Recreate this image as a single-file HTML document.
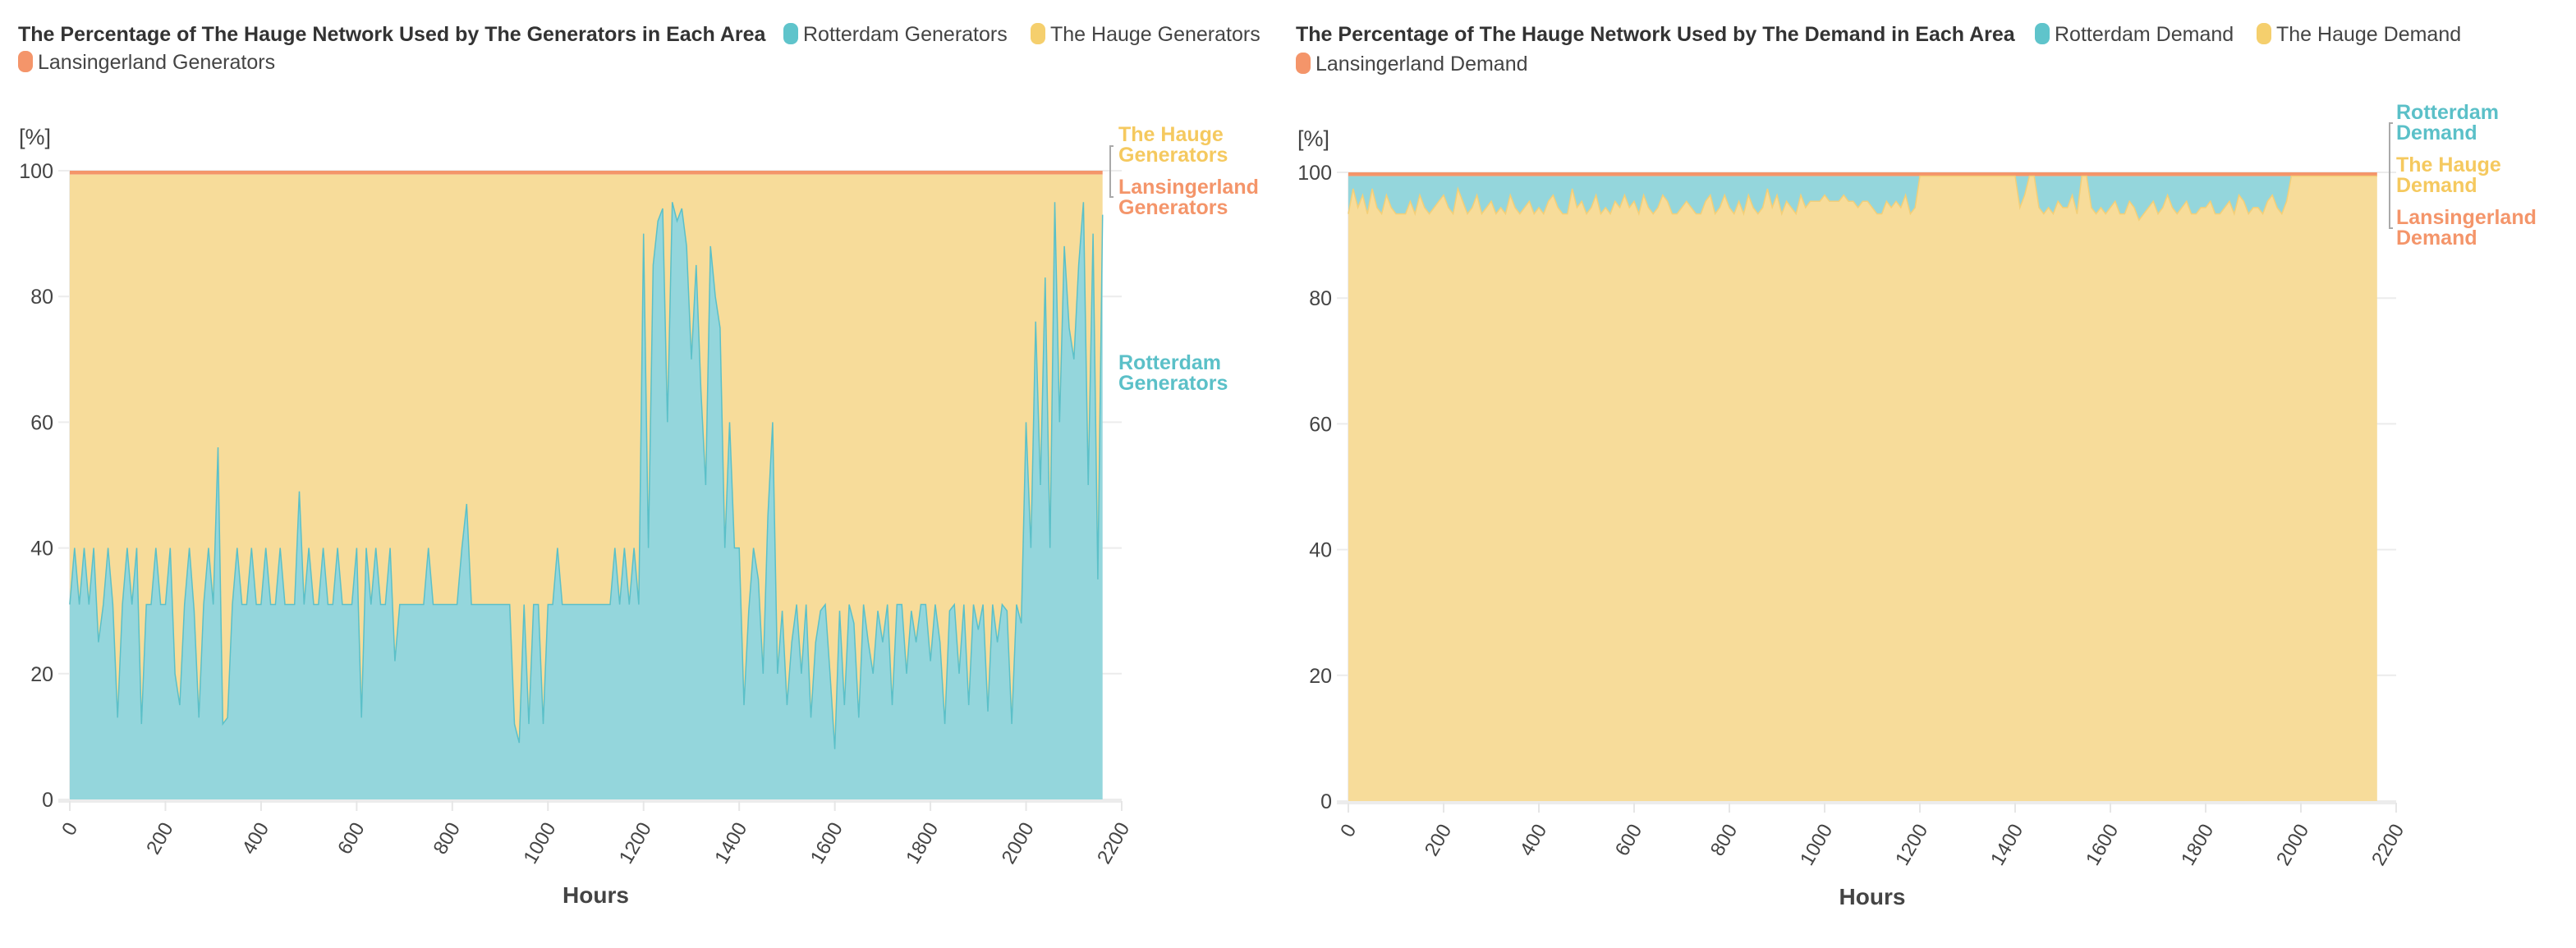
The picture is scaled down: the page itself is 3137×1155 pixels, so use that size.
<!DOCTYPE html>
<html><head><meta charset="utf-8">
<style>
html,body{margin:0;padding:0;background:#fff;}
body{width:3137px;height:1150px;overflow:hidden;font-family:"Liberation Sans",sans-serif;}
svg text{font-family:"Liberation Sans",sans-serif;}
</style></head>
<body>
<svg id="svg" width="3137" height="1150" viewBox="0 0 3137 1150" xmlns="http://www.w3.org/2000/svg"></svg>
<script>
// ---- data ----
const hoursStep = 10;
const genRotterdam = [31,40,31,40,31,40,25,31,40,31,13,31,40,31,40,12,31,31,40,31,
31,40,20,15,31,40,30,13,31,40,31,56,12,13,31,40,31,31,40,31,
31,40,31,31,40,31,31,31,49,31,40,31,31,40,31,31,40,31,31,31,
40,13,40,31,40,31,31,40,22,31,31,31,31,31,31,40,31,31,31,31,
31,31,40,47,31,31,31,31,31,31,31,31,31,12,9,31,12,31,31,12,
31,31,40,31,31,31,31,31,31,31,31,31,31,31,40,31,40,31,40,31,
90,40,85,92,94,60,95,92,94,88,70,85,65,50,88,80,75,40,60,40,
40,15,30,40,35,20,45,60,20,30,15,25,31,20,31,13,25,30,31,20,
8,30,15,31,28,13,31,25,20,30,25,31,15,31,31,20,30,25,31,31,
22,31,25,12,30,31,20,31,15,31,27,31,14,31,25,31,30,12,31,28,
60,40,76,50,83,40,95,60,88,75,70,85,95,50,90,35,93];
const genLansingerland = 0.6;
const demRotterdam = [6,2,5,3,6,2,5,6,3,5,6,6,6,4,6,3,5,6,5,4,
3,5,6,2,4,6,5,3,6,5,4,6,5,6,3,5,6,5,4,6,
5,6,4,3,5,6,6,2,5,4,6,5,3,6,5,6,4,5,3,5,
4,6,3,5,6,5,3,4,6,6,5,4,5,6,6,4,3,6,5,3,
5,6,4,6,3,5,6,5,2,5,3,6,4,5,6,3,5,4,4,4,
3,4,4,4,3,4,4,5,4,4,5,6,6,4,5,4,5,3,6,5,
0,0,0,0,0,0,0,0,0,0,0,0,0,0,0,0,0,0,0,0,
0,5,3,0,0,5,6,5,6,4,5,5,3,6,0,0,5,6,5,6,
5,4,6,6,4,5,7,6,5,4,6,5,3,5,6,5,4,6,6,5,
5,4,6,6,5,4,6,3,4,6,5,5,6,4,3,5,6,4,0,0,
0,0,0,0,0,0,0,0,0,0,0,0,0,0,0,0,0];
const demLansingerland = 0.6;
const xTicks = [0,200,400,600,800,1000,1200,1400,1600,1800,2000,2200];
const yTicks = [0,20,40,60,80,100];

const NS="http://www.w3.org/2000/svg";
const svg=document.getElementById('svg');
function mk(tag,attrs,parent){const e=document.createElementNS(NS,tag);for(const k in attrs)e.setAttribute(k,attrs[k]);(parent||svg).appendChild(e);return e;}

const C={rot:'#94d6dc',rotS:'#5bc0c8',hag:'#f7dc9a',lan:'#f4956a',rotL:'#5fc4cb',hagL:'#f5cf6d',lanL:'#f4956a',hagT:'#f5c95f',rotT:'#5bc0c8'};

function chart(cfg){
  const g=mk('g',{});
  
  
  const xs=h=>cfg.x0+(h/2200)*(cfg.x1-cfg.x0);
  const ys=v=>cfg.y0-(v/100)*(cfg.y0-cfg.y100);
  const t=mk('text',{x:cfg.tx,y:50,'font-size':25,'font-weight':'bold',fill:'#333'},g);t.textContent=cfg.title;
  
  cfg.legend.forEach(l=>{
    const lg=mk('g',{},g);
    
    
    mk('rect',{x:l.x,y:l.y-22,width:18,height:26,rx:8,fill:l.c},lg);
    const tt=mk('text',{x:l.x+24,y:l.y,'font-size':25,fill:'#444'},lg);tt.textContent=l.t;
  });
  const yl=mk('text',{x:cfg.x0-62,y:cfg.y100-32,'font-size':27,fill:'#444'},g);yl.textContent='[%]';
  
  yTicks.forEach(v=>{
    mk('line',{x1:cfg.x0-14,x2:cfg.x1,y1:ys(v),y2:ys(v),stroke:'#ececec','stroke-width':2},g);
    const tl=mk('text',{x:cfg.x0-20,y:ys(v)+9,'font-size':25,fill:'#444','text-anchor':'end'},g);tl.textContent=v;
    
  });
  mk('line',{x1:cfg.x0,x2:cfg.x0,y1:cfg.y100,y2:cfg.y0,stroke:'#ececec','stroke-width':2},g);
  const n=cfg.rot.length;
  const pts=(fn)=>{let a=[];for(let i=0;i<n;i++)a.push(xs(i*hoursStep).toFixed(1)+','+ys(fn(i)).toFixed(1));return a;};
  const base=pts(()=>0);
  const topAll=pts(()=>100);
  const lanBot=pts(()=>100-cfg.lan);
  let rotTop, rotBot, hagTop, hagBot;
  if(cfg.rotTop){ // hauge bottom, rotterdam above
    hagBot=base; hagTop=pts(i=>100-cfg.lan-cfg.rot[i]);
    rotBot=hagTop; rotTop=lanBot;
  } else {
    rotBot=base; rotTop=pts(i=>cfg.rot[i]);
    hagBot=rotTop; hagTop=lanBot;
  }
  const aL=mk('polygon',{points:topAll.concat(lanBot.slice().reverse()).join(' '),fill:C.lan},g);
  
  const aH=mk('polygon',{points:hagTop.concat(hagBot.slice().reverse()).join(' '),fill:C.hag},g);
  
  const aR=mk('polygon',{points:rotTop.concat(rotBot.slice().reverse()).join(' '),fill:C.rot},g);
  
  mk('polyline',{points:(cfg.rotTop?rotBot:rotTop).join(' '),fill:'none',stroke:cfg.rotTop?'#f3cf78':C.rotS,'stroke-width':1.5},g);
  mk('line',{x1:cfg.x0-14,x2:cfg.x1,y1:cfg.y0+2,y2:cfg.y0+2,stroke:'#ececec','stroke-width':4},g);
  xTicks.forEach(h=>{
    mk('line',{x1:xs(h),x2:xs(h),y1:cfg.y0+2,y2:cfg.y0+14,stroke:'#e6e6e6','stroke-width':2},g);
    const tl=mk('text',{x:0,y:0,'font-size':24,fill:'#444','text-anchor':'end',transform:`translate(${xs(h)+10},${cfg.y0+34}) rotate(-60)`},g);tl.textContent=h;
    
  });
  const xt=mk('text',{x:(cfg.x0+cfg.x1)/2,y:cfg.y0+126,'font-size':28,'font-weight':'bold',fill:'#444','text-anchor':'middle'},g);xt.textContent='Hours';
  
  mk('path',{d:cfg.bracket,fill:'none',stroke:'#aaa','stroke-width':2},g);
  cfg.ann.forEach(a=>{
    const at=mk('text',{x:cfg.ax,y:a.y,'font-size':25,'font-weight':'bold',fill:a.c},g);
    
    
    a.lines.forEach((s,i)=>{const ts=mk('tspan',{x:cfg.ax,dy:i?25:0},at);ts.textContent=s;});
  });
}

chart({name:'generators-chart',x0:85,x1:1366,y0:974,y100:208,tx:22,ax:1362,
 title:'The Percentage of The Hauge Network Used by The Generators in Each Area',
 legend:[{x:954,y:50,c:C.rotL,t:'Rotterdam Generators'},{x:1255,y:50,c:C.hagL,t:'The Hauge Generators'},{x:22,y:84,c:C.lanL,t:'Lansingerland Generators'}],
 rot:genRotterdam,lan:genLansingerland,rotTop:false,
 bracket:'M1356,178 L1352,178 L1352,240 L1356,240',
 ann:[{y:172,c:C.hagT,lines:['The Hauge','Generators']},{y:236,c:'#f4956a',lines:['Lansingerland','Generators']},{y:450,c:C.rotT,lines:['Rotterdam','Generators']}]});

chart({name:'demand-chart',x0:1642,x1:2918,y0:976,y100:210,tx:1578,ax:2918,
 title:'The Percentage of The Hauge Network Used by The Demand in Each Area',
 legend:[{x:2478,y:50,c:C.rotL,t:'Rotterdam Demand'},{x:2748,y:50,c:C.hagL,t:'The Hauge Demand'},{x:1578,y:86,c:C.lanL,t:'Lansingerland Demand'}],
 rot:demRotterdam,lan:demLansingerland,rotTop:true,
 bracket:'M2914,150 L2910,150 L2910,278 L2914,278',
 ann:[{y:145,c:C.rotT,lines:['Rotterdam','Demand']},{y:209,c:C.hagT,lines:['The Hauge','Demand']},{y:273,c:'#f4956a',lines:['Lansingerland','Demand']}]});
</script>
</body></html>
